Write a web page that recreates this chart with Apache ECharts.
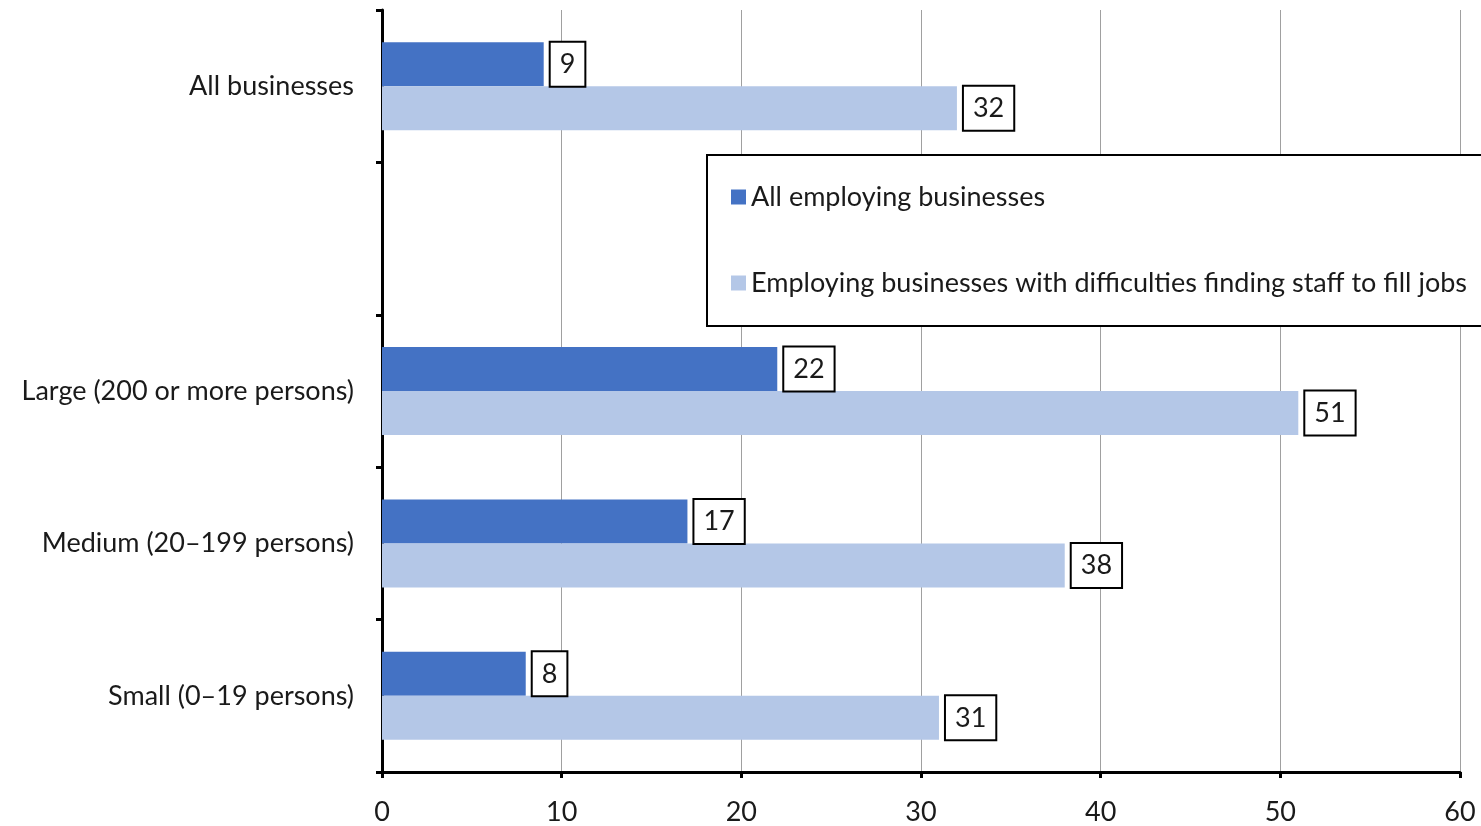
<!DOCTYPE html>
<html>
<head>
<meta charset="utf-8">
<script src="https://cdn.jsdelivr.net/npm/echarts@6/dist/echarts.min.js"></script>
<style>html,body{margin:0;padding:0;background:#fff}#c{width:1481px;height:826px}</style>
</head>
<body>
<div id="c"></div>
<script>
var categories = ['Small (0\u201319 persons)', 'Medium (20\u2013199 persons)', 'Large (200 or more persons)', '', 'All businesses'];
var seriesNames = ['All employing businesses', 'Employing businesses with difficulties finding staff to fill jobs'];
var allEmploying = [8, 17, 22, null, 9];
var withDifficulties = [31, 38, 51, null, 32];
var xTicks = [0, 10, 20, 30, 40, 50, 60];

var FONT = 'Lato';
var FS = 27;
var TXT = '#1a1a1a';
var chart = echarts.init(document.getElementById('c'), null, {renderer: 'canvas'});
var labelStyle = {
  show: true, position: 'right', distance: 7,
  color: TXT, fontFamily: FONT, fontSize: FS, lineHeight: 28,
  backgroundColor: '#fff', borderColor: '#000', borderWidth: 2,
  padding: [8, 9, 7, 9]
};
chart.setOption({
  animation: false,
  textStyle: {fontFamily: FONT},
  grid: {left: 382, right: 21, top: 10, bottom: 53, containLabel: false},
  legend: {
    orient: 'vertical', left: 707, top: 155,
    padding: [27, 30, 28, 24], itemGap: 56,
    itemWidth: 15, itemHeight: 15, icon: 'rect',
    backgroundColor: '#fff', borderColor: '#000', borderWidth: 2,
    textStyle: {color: TXT, fontFamily: FONT, fontSize: FS, lineHeight: 30},
    data: seriesNames
  },
  xAxis: {
    type: 'value', min: xTicks[0], max: xTicks[xTicks.length - 1], interval: 10,
    axisLine: {show: true, onZero: false, lineStyle: {color: '#000', width: 3}},
    axisTick: {show: true, length: 6, lineStyle: {color: '#000', width: 3}},
    axisLabel: {color: TXT, fontFamily: FONT, fontSize: FS, margin: 27},
    splitLine: {show: true, lineStyle: {color: '#a0a0a0', width: 1}}
  },
  yAxis: {
    type: 'category', data: categories,
    axisLine: {show: true, lineStyle: {color: '#000', width: 3}},
    axisTick: {show: true, length: 6, lineStyle: {color: '#000', width: 3}},
    axisLabel: {color: TXT, fontFamily: FONT, fontSize: FS, margin: 28},
    splitLine: {show: false}
  },
  series: [
    {name: seriesNames[0], type: 'bar', data: allEmploying, barWidth: 44, barGap: '0%',
     itemStyle: {color: '#4472C4'}, label: labelStyle},
    {name: seriesNames[1], type: 'bar', data: withDifficulties, barWidth: 44, barGap: '0%',
     itemStyle: {color: '#B4C7E7'}, label: labelStyle}
  ]
});
</script>
</body>
</html>
